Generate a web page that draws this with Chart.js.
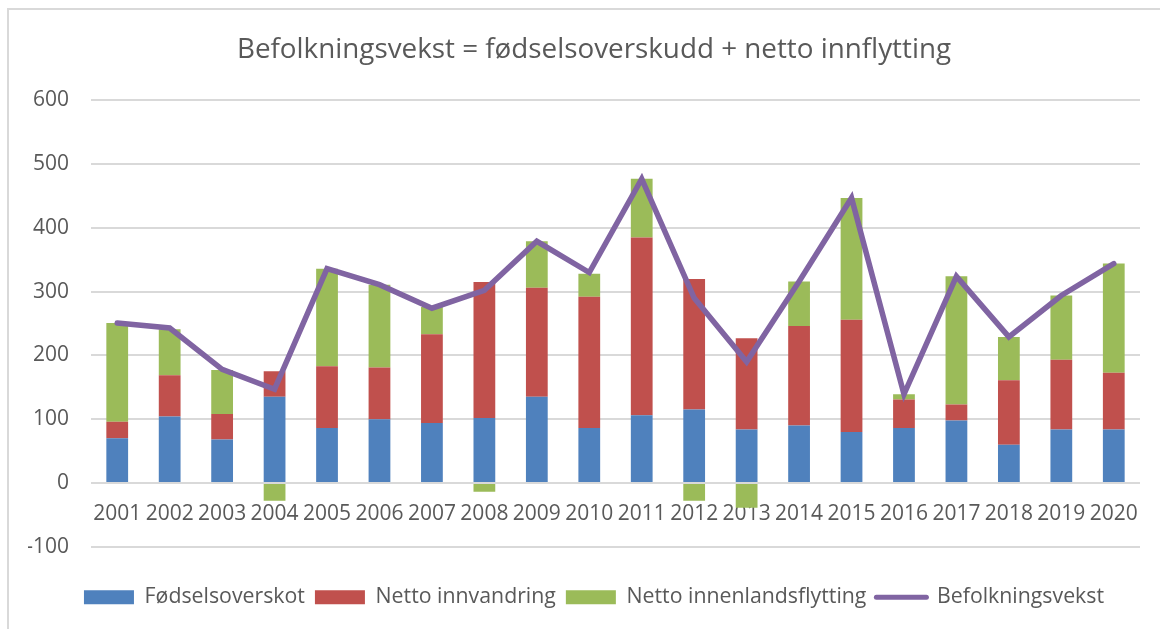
<!DOCTYPE html>
<html>
<head>
<meta charset="utf-8">
<script src="https://cdn.jsdelivr.net/npm/chart.js@4/dist/chart.umd.min.js"></script>
<style>
  html, body { margin: 0; padding: 0; background: #ffffff; }
  #wrap { position: relative; width: 1160px; height: 629px; overflow: hidden; }
  #frame { position: absolute; left: 7px; top: 8px; width: 1200px; height: 700px; border: 2px solid #d9d9d9; box-sizing: border-box; pointer-events: none; }
  canvas { position: absolute; left: 0; top: 0; }
</style>
</head>
<body>
<div id="wrap">
  <canvas id="c" width="1160" height="629"></canvas>
  <div id="frame"></div>
</div>
<script>
const years = ['2001','2002','2003','2004','2005','2006','2007','2008','2009','2010','2011','2012','2013','2014','2015','2016','2017','2018','2019','2020'];
const fodselsoverskot = [70,104,68,135,86,100,94,102,135,86,106,115,84,90,80,86,98,60,84,84];
const nettoInnvandring = [26,65,40,40,97,81,139,213,171,206,279,205,143,156,176,45,25,101,109,89];
const nettoInnenlands = [155,72,69,-28,153,130,43,-14,73,36,92,-28,-39,70,191,8,201,68,101,171];
const befolkningsvekst = [251,243,178,147,336,311,274,302,379,330,477,290,190,316,447,139,324,229,294,344];
const yTicks = [-100,0,100,200,300,400,500,600];

const FONT = '"Open Sans", "DejaVu Sans", sans-serif';
const TXT = '#595959';

new Chart(document.getElementById('c'), {
  type: 'bar',
  data: {
    labels: years,
    datasets: [
      { type: 'line', label: 'Befolkningsvekst', data: befolkningsvekst, borderColor: '#8064a2', backgroundColor: '#8064a2',
        borderWidth: 5.5, pointRadius: 0, pointHoverRadius: 0, tension: 0, stack: 'line', order: 0, borderCapStyle: 'round' },
      { label: 'Fødselsoverskot', data: fodselsoverskot, backgroundColor: '#4f81bd', stack: 's', order: 1 },
      { label: 'Netto innvandring', data: nettoInnvandring, backgroundColor: '#c0504d', stack: 's', order: 1 },
      { label: 'Netto innenlandsflytting', data: nettoInnenlands, backgroundColor: '#9bbb59', stack: 's', order: 1 }
    ]
  },
  options: {
    responsive: false,
    animation: false,
    devicePixelRatio: 1,
    layout: { padding: { left: 28, right: 0, top: 0, bottom: 11 } },
    datasets: { bar: { categoryPercentage: 1.0, barPercentage: 0.415 } },
    scales: {
      x: {
        stacked: true,
        position: { y: 0 },
        grid: { display: false, drawTicks: false },
        border: { display: false },
        ticks: { color: TXT, font: { family: FONT, size: 21 }, padding: 18, autoSkip: false, maxRotation: 0, minRotation: 0 }
      },
      xpad: {
        type: 'category', axis: 'x', position: 'bottom', labels: years,
        grid: { display: false, drawTicks: false }, border: { display: false },
        ticks: { display: false },
        afterFit: (s) => { s.height = 30; }
      },
      y: {
        stacked: true,
        min: -100, max: 600,
        afterBuildTicks: (s) => { s.ticks = yTicks.map(v => ({ value: v })); },
        afterFit: (s) => { s.width = 63; },
        grid: { color: '#d9d9d9', lineWidth: 2, drawTicks: false },
        border: { display: false },
        ticks: { color: TXT, font: { family: FONT, size: 21 }, padding: 22 }
      },
      ypad: {
        type: 'linear', axis: 'y', position: 'right', min: 0, max: 1,
        grid: { display: false, drawTicks: false }, border: { display: false },
        ticks: { display: false },
        afterFit: (s) => { s.width = 20; }
      }
    },
    plugins: {
      title: {
        display: true,
        text: 'Befolkningsvekst = fødselsoverskudd + netto innflytting',
        color: TXT,
        font: { family: FONT, size: 27.8, weight: 'normal' },
        padding: { top: 33, bottom: 34 }
      },
      legend: {
        position: 'bottom',
        labels: {
          color: TXT,
          font: { family: FONT, size: 21.3 },
          usePointStyle: true,
          pointStyleWidth: 50,
          boxHeight: 14,
          padding: 10,
          generateLabels: (chart) => {
            const items = Chart.defaults.plugins.legend.labels.generateLabels(chart);
            items.forEach(it => {
              const ds = chart.data.datasets[it.datasetIndex];
              if (ds.type === 'line') {
                it.pointStyle = 'line'; it.lineWidth = 5; it.strokeStyle = ds.borderColor; it.lineCap = 'round';
              } else {
                it.pointStyle = 'rect'; it.lineWidth = 0;
              }
            });
            const line = items.shift();
            items.push(line);
            return items;
          }
        }
      },
      tooltip: { enabled: false }
    }
  }
});
</script>
</body>
</html>
